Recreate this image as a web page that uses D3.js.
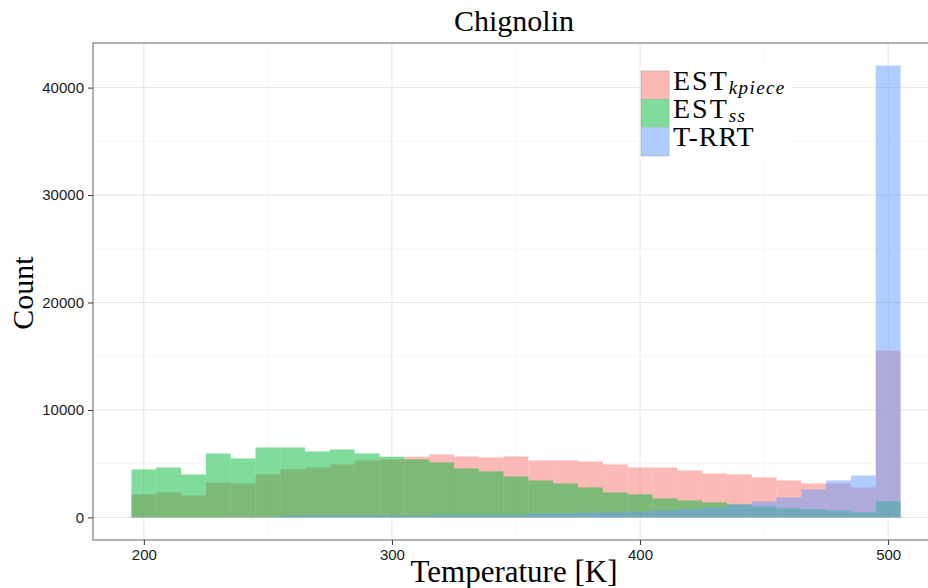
<!DOCTYPE html>
<html>
<head>
<meta charset="utf-8">
<script src="https://cdn.jsdelivr.net/npm/d3@7"></script>
<style>
  body { margin: 0; background: #ffffff; }
  svg { display: block; }
  .tick text { font-family: "Liberation Sans", Arial, sans-serif; font-size: 15px; fill: #1a1a1a; }
  .serif { font-family: "Liberation Serif", "Times New Roman", serif; fill: #000; }
</style>
</head>
<body>
<svg id="chart" width="928" height="588"></svg>
<script>
// left edge of every 10 K bin
var binStarts = [195, 205, 215, 225, 235, 245, 255, 265, 275, 285, 295, 305, 315, 325, 335, 345,
                 355, 365, 375, 385, 395, 405, 415, 425, 435, 445, 455, 465, 475, 485, 495];
var binWidth = 10;

var estKpiece = [2140, 2325, 2050, 3250, 3160, 4000, 4465, 4650, 4930, 5300, 5400, 5650, 5860, 5675, 5580, 5675,
                 5300, 5300, 5210, 4930, 4650, 4650, 4370, 4090, 4000, 3720, 3440, 3160, 3160, 2790, 15530];
var estSs = [4465, 4650, 4000, 5950, 5490, 6510, 6510, 6140, 6325, 5950, 5650, 5400, 5120, 4560, 4280, 3815,
             3440, 3160, 2790, 2325, 2140, 1770, 1580, 1395, 1200, 1025, 840, 745, 650, 465, 1490];
var tRrt = [30, 30, 30, 40, 50, 60, 180, 190, 190, 200, 190, 150, 250, 250, 260, 260,
            370, 380, 460, 470, 560, 650, 775, 930, 1220, 1490, 1860, 2600, 3440, 3900, 42050];

var seriesNames = ["kpiece", "ss", "trrt"];
var seriesColors = ["#F8766D", "#00BA38", "#619CFF"];

var xTicks = [200, 300, 400, 500];
var xMinor = [250, 350, 450];
var yTicks = [0, 10000, 20000, 30000, 40000];
var yMinor = [5000, 15000, 25000, 35000];

var svg = d3.select("#chart");

// panel box (right side runs past the window, as in the original)
var panel = {left: 93, top: 43, right: 939, bottom: 540};

var x = d3.scaleLinear().domain([179.5, 520.5]).range([panel.left, panel.right]);
var y = d3.scaleLinear().domain([-2102, 44152]).range([panel.bottom, panel.top]);

// grid lines
var grid = svg.append("g");
grid.selectAll("line.xminor").data(xMinor).enter().append("line")
  .attr("x1", x).attr("x2", x).attr("y1", panel.top).attr("y2", panel.bottom)
  .attr("stroke", "#f7f7f7").attr("stroke-width", 1);
grid.selectAll("line.yminor").data(yMinor).enter().append("line")
  .attr("x1", panel.left).attr("x2", panel.right).attr("y1", y).attr("y2", y)
  .attr("stroke", "#f7f7f7").attr("stroke-width", 1);
grid.selectAll("line.xmajor").data(xTicks).enter().append("line")
  .attr("x1", x).attr("x2", x).attr("y1", panel.top).attr("y2", panel.bottom)
  .attr("stroke", "#e5e5e5").attr("stroke-width", 1);
grid.selectAll("line.ymajor").data(yTicks).enter().append("line")
  .attr("x1", panel.left).attr("x2", panel.right).attr("y1", y).attr("y2", y)
  .attr("stroke", "#e5e5e5").attr("stroke-width", 1);

// histogram bars, one layer per series
var allSeries = [estKpiece, estSs, tRrt];
allSeries.forEach(function(vals, k) {
  svg.append("g").attr("class", "bars-" + seriesNames[k])
    .selectAll("rect").data(vals).enter().append("rect")
    .attr("x", function(d, i) { return x(binStarts[i]); })
    .attr("width", function(d, i) { return x(binStarts[i] + binWidth) - x(binStarts[i]); })
    .attr("y", function(d) { return y(d); })
    .attr("height", function(d) { return y(0) - y(d); })
    .attr("fill", seriesColors[k]).attr("fill-opacity", 0.5);
});

// panel border
svg.append("rect")
  .attr("x", panel.left).attr("y", panel.top)
  .attr("width", panel.right - panel.left).attr("height", panel.bottom - panel.top)
  .attr("fill", "none").attr("stroke", "#7f7f7f").attr("stroke-width", 1.2);

// axes
var xAxis = svg.append("g").attr("transform", "translate(0," + panel.bottom + ")")
  .call(d3.axisBottom(x).tickValues(xTicks).tickSize(5).tickPadding(4).tickFormat(d3.format("d")));
var yAxis = svg.append("g").attr("transform", "translate(" + panel.left + ",0)")
  .call(d3.axisLeft(y).tickValues(yTicks).tickSize(5).tickPadding(4).tickFormat(d3.format("d")));
[xAxis, yAxis].forEach(function(a) {
  a.select(".domain").remove();
  a.selectAll(".tick line").attr("stroke", "#333333");
});

// titles
svg.append("text").attr("class", "serif").attr("x", 514).attr("y", 31)
  .attr("text-anchor", "middle").style("font-size", "30px").text("Chignolin");
svg.append("text").attr("class", "serif").attr("x", 514).attr("y", 582)
  .attr("text-anchor", "middle").style("font-size", "31px").text("Temperature [K]");
svg.append("text").attr("class", "serif")
  .attr("transform", "translate(33,293) rotate(-90)")
  .attr("text-anchor", "middle").style("font-size", "30px").text("Count");

// legend
var legend = svg.append("g").attr("transform", "translate(640,66)");
legend.append("rect").attr("x", 0).attr("y", 0).attr("width", 153).attr("height", 94).attr("fill", "#ffffff");
var keyH = 28.3;
var labels = [["EST", "kpiece"], ["EST", "ss"], ["T-RRT", ""]];
seriesColors.forEach(function(c, k) {
  legend.append("rect").attr("x", 1).attr("y", 5 + k * keyH).attr("width", 28).attr("height", keyH)
    .attr("fill", "#ffffff").attr("stroke", "#cccccc").attr("stroke-width", 1);
  legend.append("rect").attr("x", 1).attr("y", 5 + k * keyH).attr("width", 28).attr("height", keyH)
    .attr("fill", c).attr("fill-opacity", 0.5);
  var t = legend.append("text").attr("class", "serif").attr("x", 33).attr("y", 23.5 + k * keyH)
    .style("font-size", "28px");
  t.append("tspan").style("letter-spacing", labels[k][1] ? "2px" : "1px").text(labels[k][0]);
  if (labels[k][1]) {
    t.append("tspan").attr("dy", 4).style("font-size", "19px").style("font-style", "italic")
      .style("letter-spacing", "1.4px").text(labels[k][1]);
  }
});
</script>
</body>
</html>
